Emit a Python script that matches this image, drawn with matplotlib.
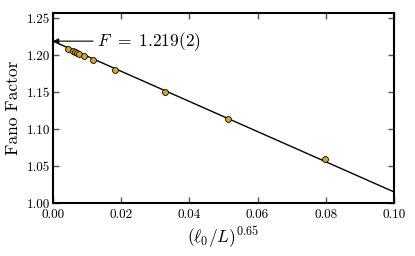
import matplotlib
matplotlib.use("Agg")
import matplotlib.pyplot as plt
import numpy as np

plt.rcParams['font.family'] = ['cmr10', 'DejaVu Serif']
plt.rcParams['mathtext.fontset'] = 'cm'
plt.rcParams['axes.formatter.use_mathtext'] = True

x_vals = [0.0045, 0.0058, 0.0065, 0.0071, 0.0077, 0.0091, 0.0117, 0.0182, 0.0327, 0.0512, 0.0799]
f_vals = [1.2077, 1.2054, 1.2040, 1.2027, 1.2014, 1.1986, 1.1932, 1.1797, 1.1500, 1.1131, 1.0590]
fit_intercept = 1.219
fit_slope = -2.04
xticks = [0.00, 0.02, 0.04, 0.06, 0.08, 0.10]
yticks = [1.00, 1.05, 1.10, 1.15, 1.20, 1.25]

fig = plt.figure(figsize=(4.15, 2.56), dpi=100)
ax = fig.add_axes([0.1277, 0.207, 0.8217, 0.742])

xl = np.array([0.0, 0.1])
ax.plot(xl, fit_intercept + fit_slope * xl, color='black', lw=1.0, zorder=2)
ax.scatter(x_vals, f_vals, s=18, color='#daa520', edgecolor='black', linewidth=0.6, zorder=3)

ax.annotate(r'$F\;\,=\;1.219(2)$', xy=(0.0, fit_intercept), xytext=(0.0130, fit_intercept),
            va='center', ha='left', fontsize=12.5,
            arrowprops=dict(arrowstyle='-|>', color='black', lw=0.8, shrinkA=1, shrinkB=0,
                            mutation_scale=8))

ax.set_xlim(0, 0.1)
ax.set_ylim(1.0, 1.257)
ax.set_xticks(xticks)
ax.set_yticks(yticks)
ax.set_xticklabels([f'{v:.2f}' for v in xticks])
ax.set_yticklabels([f'{v:.2f}' for v in yticks])
ax.tick_params(direction='in', top=True, right=True, length=4, width=1, color='#555555',
               labelsize=9.5)
ax.tick_params(axis='y', pad=2)
ax.tick_params(axis='x', pad=4)
for s in ax.spines.values():
    s.set_linewidth(1.5)

ax.set_xlabel(r'$(\ell_0/L)^{0.65}$', fontsize=12.5, labelpad=3)
ax.set_ylabel('Fano Factor', fontsize=12.5, labelpad=4)

fig.savefig('out.png', dpi=100)
